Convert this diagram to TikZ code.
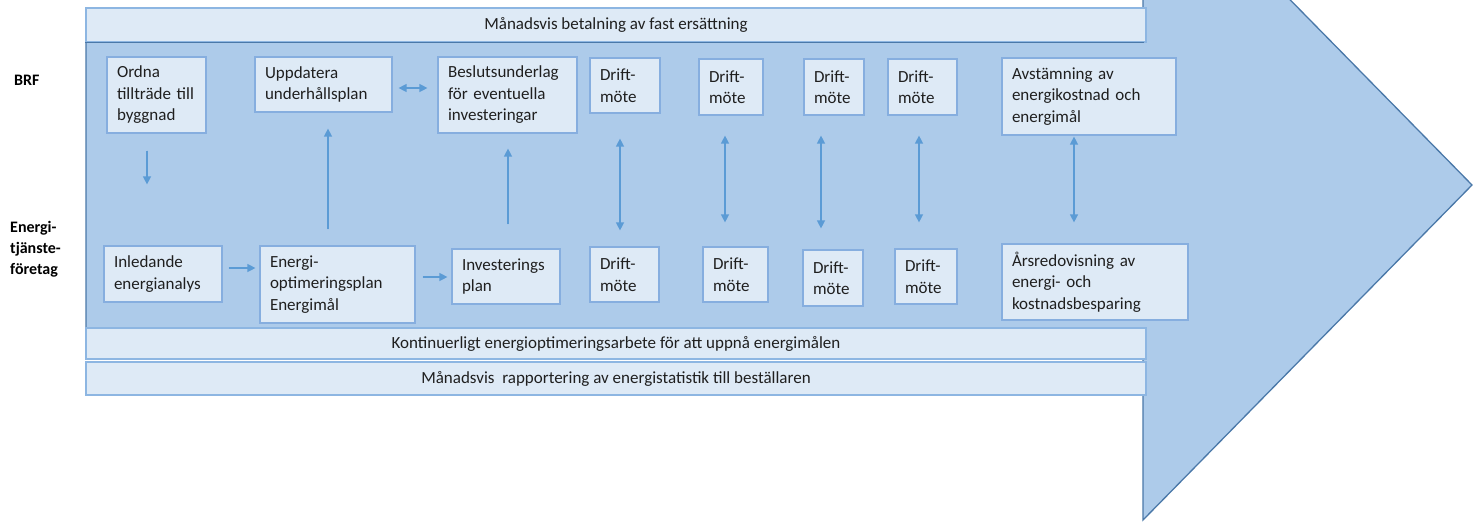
\documentclass[tikz,border=0pt]{standalone}
\usepackage{fontspec}
\setmainfont{Carlito}
\usetikzlibrary{arrows.meta,calc}

\definecolor{shaftfill}{HTML}{ADCBEA}
\definecolor{shaftline}{HTML}{4A78A8}
\definecolor{boxfill}{HTML}{DEEAF6}
\definecolor{boxline}{HTML}{86AEDF}
\definecolor{barline}{HTML}{8DB6E2}
\definecolor{arrowc}{HTML}{5B9BD5}
\definecolor{txt}{HTML}{1F1F1F}

\newcommand\boxfont{\fontsize{17}{21.5}\selectfont}
\newcommand\labfont{\fontsize{16}{21}\selectfont\bfseries}

\tikzset{
  box/.style={draw=boxline, fill=boxfill, line width=1.2pt, inner xsep=10pt,
    inner ysep=2pt, align=left, font=\boxfont, text=txt},
  band/.style={draw=barline, fill=boxfill, line width=1.2pt, inner sep=0pt,
    minimum width=1060pt, font=\boxfont, text=txt},
  lab/.style={font=\labfont, text=black, inner sep=0pt, align=left, anchor=west},
  tip/.tip={Triangle[length=8pt,width=8pt]},
  arr/.style={-tip, draw=arrowc, fill=arrowc, line width=1.3pt},
  darr/.style={tip-tip, draw=arrowc, fill=arrowc, line width=1.3pt},
}

\begin{document}
\begin{tikzpicture}[x=1pt,y=-1pt]
\useasboundingbox (0,0) rectangle (1480,522);
\clip (0,0) rectangle (1480,522);

% big process arrow
\draw[fill=shaftfill, draw=shaftline, line width=1.3pt]
  (86,42) -- (1143,42) -- (1143,-150) -- (1472,185) -- (1143,520)
  -- (1143,328) -- (86,328) -- cycle;

% horizontal bands
\node[band, minimum height=34pt] (pay) at (616,25) {Månadsvis betalning av fast ersättning};
\draw[shaftline, line width=1.6pt] (pay.south west) -- ([xshift=-3pt]pay.south east);
\node[band, minimum height=31pt] (cont) at (616,343.5) {Kontinuerligt energioptimeringsarbete för att uppnå energimålen};
\node[band, minimum height=33pt] (rep) at (616,378.5) {Månadsvis\ \ rapportering av energistatistik till beställaren};

% row labels
\node[lab] (brf) at (14,80) {BRF};
\node[lab] (etf) at (10,249) {Energi-\\tjänste-\\företag};

% BRF row
\node[box, text width=79pt,  minimum height=76pt] (ordna)  at (156.5,95)  {Ordna\\tillträde till\\byggnad};
\node[box, text width=117pt, minimum height=55pt] (upp)    at (323.5,84.5) {Uppdatera\\underhållsplan};
\node[box, text width=119pt, minimum height=76pt] (beslut) at (507.5,95)  {Beslutsunderlag\\för eventuella\\investeringar};
\node[box, text width=50pt,  minimum height=55pt] (dta)    at (625,85.5)  {Drift-\\möte};
\node[box, text width=44pt,  minimum height=56pt] (dtb)    at (731,87)    {Drift-\\möte};
\node[box, text width=40pt,  minimum height=56pt] (dtc)    at (834,87)    {Drift-\\möte};
\node[box, text width=49pt,  minimum height=56pt] (dtd)    at (922.5,87)  {Drift-\\möte};
\node[box, text width=154pt, minimum height=77pt] (avst)   at (1089,96.5) {Avstämning av\\energikostnad och\\energimål};

% energy service company row
\node[box, text width=98pt,  minimum height=56pt] (inled)  at (163,274)   {Inledande\\energianalys};
\node[box, text width=135pt, minimum height=77pt] (eplan)  at (337.5,284.5) {Energi-\\optimeringsplan\\Energimål};
\node[box, text width=88pt,  minimum height=55pt] (invest) at (506,276.5) {Investerings\\plan};
\node[box, text width=49pt,  minimum height=55pt] (dba)    at (624.5,274.5) {Drift-\\möte};
\node[box, text width=45pt,  minimum height=55pt] (dbb)    at (735.5,274.5) {Drift-\\möte};
\node[box, text width=40pt,  minimum height=56pt] (dbc)    at (833,278)   {Drift-\\möte};
\node[box, text width=42pt,  minimum height=55pt] (dbd)    at (926,276.5) {Drift-\\möte};
\node[box, text width=166pt, minimum height=76pt] (ars)    at (1095,282)  {Årsredovisning av\\energi- och\\kostnadsbesparing};

% connectors
\draw[arr]  ($(ordna.south)+(-9.5,17)$) -- ($(inled.north)+(-16,-61)$);
\draw[arr]  ($(inled.east)+(6,-6)$)     -- ($(eplan.west)+(-4,-16.5)$);
\draw[arr]  ($(eplan.east)+(7,-7.5)$)   -- ($(invest.west)+(-4,0.5)$);
\draw[arr]  ($(eplan.north)+(-9.5,-16)$) -- ($(upp.south)+(4.5,16)$);
\draw[darr] ($(upp.east)+(6,3.5)$)      -- ($(beslut.west)+(-10,-7)$);
\draw[arr]  ($(invest.north)+(2,-24)$)  -- ($(beslut.south)+(0.5,15)$);
\draw[darr] ($(dta.south)+(-5,25)$)     -- ($(dba.north)+(-4.5,-16)$);
\draw[darr] ($(dtb.south)+(-6,20)$)     -- ($(dbb.north)+(-10.5,-24)$);
\draw[darr] ($(dtc.south)+(-13,20)$)    -- ($(dbc.north)+(-12,-21)$);
\draw[darr] ($(dtd.south)+(-3.5,20)$)   -- ($(dbd.north)+(-7,-26)$);
\draw[darr] ($(avst.south)+(-15,1)$)    -- ($(ars.north)+(-21,-21)$);
\end{tikzpicture}
\end{document}
